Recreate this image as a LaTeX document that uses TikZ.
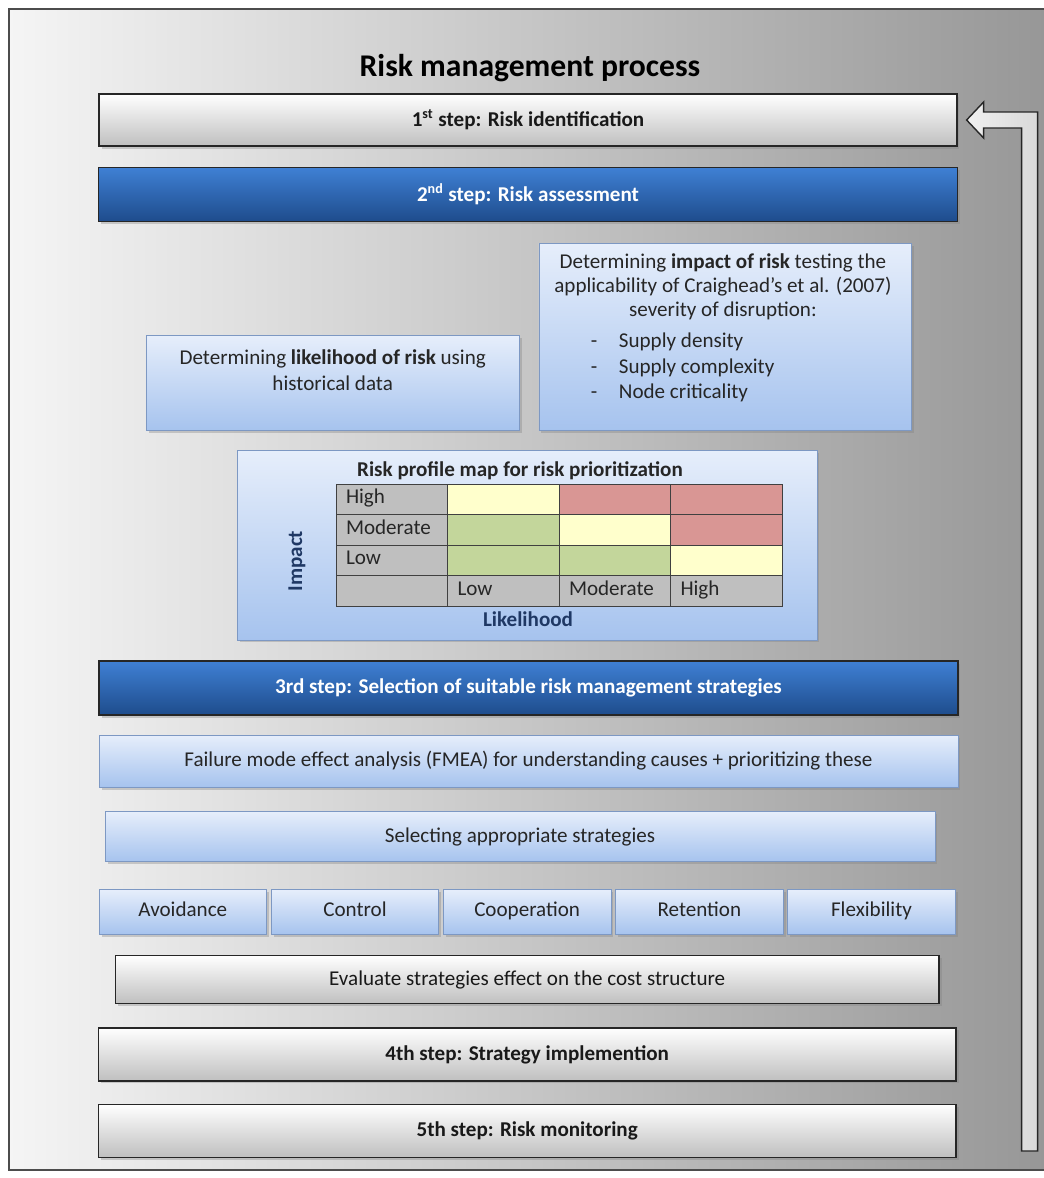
\documentclass[tikz,border=0pt]{standalone}
\usepackage{fontspec}
\setmainfont{Carlito}
\usetikzlibrary{positioning,shadows,calc}
\definecolor{stepblue}{RGB}{63,128,212}
\definecolor{stepbluedark}{RGB}{30,76,140}
\definecolor{paleblue}{RGB}{230,238,251}
\definecolor{midblue}{RGB}{166,195,238}
\definecolor{boxedge}{RGB}{125,152,195}
\definecolor{cellgray}{RGB}{191,191,191}
\definecolor{cellyellow}{RGB}{255,255,204}
\definecolor{cellred}{RGB}{217,150,148}
\definecolor{cellgreen}{RGB}{195,214,155}
\definecolor{navytext}{RGB}{31,56,100}
\tikzset{
    basebox/.style={
        rectangle,
        align=center,
        font=\fontsize{12}{14.5}\selectfont,
        drop shadow={opacity=0.35, shadow xshift=0.05cm, shadow yshift=-0.05cm}
    },
    stepfont/.style={font=\fontsize{12}{14.5}\selectfont\bfseries},
    graystep/.style={basebox, draw=black!85, line width=0.8pt, top color=white, bottom color=black!25, text=black!90},
    bluestep/.style={basebox, stepfont, draw=black!85, line width=0.8pt, top color=stepblue, bottom color=stepbluedark, text=white},
    lightbox/.style={basebox, draw=boxedge, top color=paleblue, bottom color=midblue, text=black!85},
    stratbox/.style={lightbox, minimum width=3.35cm, minimum height=0.9cm, text height=0.7em, text depth=0.2em},
    riskcell/.style={
        draw=black!75,
        minimum width=2.23cm,
        minimum height=0.61cm,
        text width=1.83cm,
        text height=0.7em,
        text depth=0.2em,
        inner xsep=0.2cm,
        align=left,
        font=\fontsize{12}{14}\selectfont,
        text=black!85
    },
    looparrow/.style={draw=black!85, line width=0.8pt, left color=black!6, right color=black!15}
}
\begin{document}
\begin{tikzpicture}[x=0.02cm, y=-0.02cm, node distance=0.44cm]
\useasboundingbox (0,0) rectangle (1044,1178);
\clip (0,0) rectangle (1044,1178);

% backdrop
\draw[draw=black!70, line width=0.8pt, left color=black!4, right color=black!42] (9,9) rectangle (1080,1170);

\node[font=\fontsize{18}{22}\selectfont\bfseries] (title) at (530,68) {Risk management process};

% 1st and 2nd step
\node[graystep, stepfont, minimum width=17.16cm, minimum height=1.04cm] (step1) at (528,120) {1\textsuperscript{st} step: Risk identification};
\node[bluestep, minimum width=17.18cm, minimum height=1.08cm, below=0.4cm of step1] (step2) {2\textsuperscript{nd} step: Risk assessment};

\node[lightbox, minimum width=7.46cm, minimum height=3.74cm, below=0.42cm of step2.south east, anchor=north east, xshift=-0.92cm] (impact) {
    \begin{minipage}{7cm}
    \fontsize{12}{13.6}\selectfont
    \centering
    Determining \textbf{impact of risk} testing the\\
    applicability of Craighead's et al. (2007)\\
    severity of disruption:\par\vspace{4pt}
    \raggedright
    \hspace*{0.86cm}\makebox[0.56cm][l]{-}Supply density\\[1pt]
    \hspace*{0.86cm}\makebox[0.56cm][l]{-}Supply complexity\\[1pt]
    \hspace*{0.86cm}\makebox[0.56cm][l]{-}Node criticality
    \par\vspace{0.35cm}
    \end{minipage}
};
\node[lightbox, minimum width=7.46cm, minimum height=1.9cm, left=0.38cm of impact.south west, anchor=south east] (likely) {Determining \textbf{likelihood of risk} using\\historical data\\\mbox{}};

% risk profile map
\node[lightbox, minimum width=11.6cm, minimum height=3.8cm] (riskmap) at (527,545) {};
\node[font=\fontsize{12}{14}\selectfont\bfseries, text=black!85] (maptitle) at (520,471) {Risk profile map for risk prioritization};
\node[riskcell, fill=cellgray] (c11) at (391.75,499.25) {High};
\node[riskcell, fill=cellyellow] (c12) at (503.25,499.25) {};
\node[riskcell, fill=cellred] (c13) at (614.75,499.25) {};
\node[riskcell, fill=cellred] (c14) at (726.25,499.25) {};
\node[riskcell, fill=cellgray] (c21) at (391.75,529.75) {Moderate};
\node[riskcell, fill=cellgreen] (c22) at (503.25,529.75) {};
\node[riskcell, fill=cellyellow] (c23) at (614.75,529.75) {};
\node[riskcell, fill=cellred] (c24) at (726.25,529.75) {};
\node[riskcell, fill=cellgray] (c31) at (391.75,560.25) {Low};
\node[riskcell, fill=cellgreen] (c32) at (503.25,560.25) {};
\node[riskcell, fill=cellgreen] (c33) at (614.75,560.25) {};
\node[riskcell, fill=cellyellow] (c34) at (726.25,560.25) {};
\node[riskcell, fill=cellgray] (c41) at (391.75,590.75) {};
\node[riskcell, fill=cellgray] (c42) at (503.25,590.75) {Low};
\node[riskcell, fill=cellgray] (c43) at (614.75,590.75) {Moderate};
\node[riskcell, fill=cellgray] (c44) at (726.25,590.75) {High};
\node[rotate=90, font=\fontsize{12}{14}\selectfont\bfseries, text=navytext] (impactlbl) at (297,561) {Impact};
\node[font=\fontsize{12}{14}\selectfont\bfseries, text=navytext] (likelbl) at (528,619) {Likelihood};

% 3rd step
\node[bluestep, minimum width=17.18cm, minimum height=1.08cm, below=0.4cm of riskmap, xshift=0.03cm] (step3) {3rd step: Selection of suitable risk management strategies};
\node[lightbox, minimum width=17.18cm, minimum height=1.04cm, below=0.38cm of step3] (fmea) {Failure mode effect analysis (FMEA) for understanding causes + prioritizing these};
\node[lightbox, minimum width=16.6cm, minimum height=1cm, below=0.48cm of fmea, xshift=-0.17cm] (select) {Selecting appropriate strategies};

\node[stratbox, below=0.54cm of select.south west, anchor=north west, xshift=-0.12cm] (avoid) {Avoidance};
\node[stratbox, right=0.08cm of avoid] (control) {Control};
\node[stratbox, right=0.08cm of control] (coop) {Cooperation};
\node[stratbox, right=0.08cm of coop] (retain) {Retention};
\node[stratbox, right=0.08cm of retain] (flex) {Flexibility};

\node[graystep, minimum width=16.48cm, minimum height=0.96cm, below=0.4cm of coop] (evaluate) {Evaluate strategies effect on the cost structure};

% 4th and 5th step
\node[graystep, stepfont, minimum width=17.16cm, minimum height=1.06cm, below=0.46cm of evaluate] (step4) {4th step: Strategy implemention};
\node[graystep, stepfont, minimum width=17.16cm, minimum height=1.06cm, below=0.44cm of step4] (step5) {5th step: Risk monitoring};

% feedback arrow back to step 1
\coordinate (looptip) at ([xshift=0.18cm]step1.east);
\draw[looparrow] (looptip) -- ++(17,-18) -- ++(0,10) -- ++(54,0) -- ++(0,1039) -- ++(-16,0) -- ++(0,-1023) -- ++(-38,0) -- ++(0,10) -- cycle;
\end{tikzpicture}
\end{document}
